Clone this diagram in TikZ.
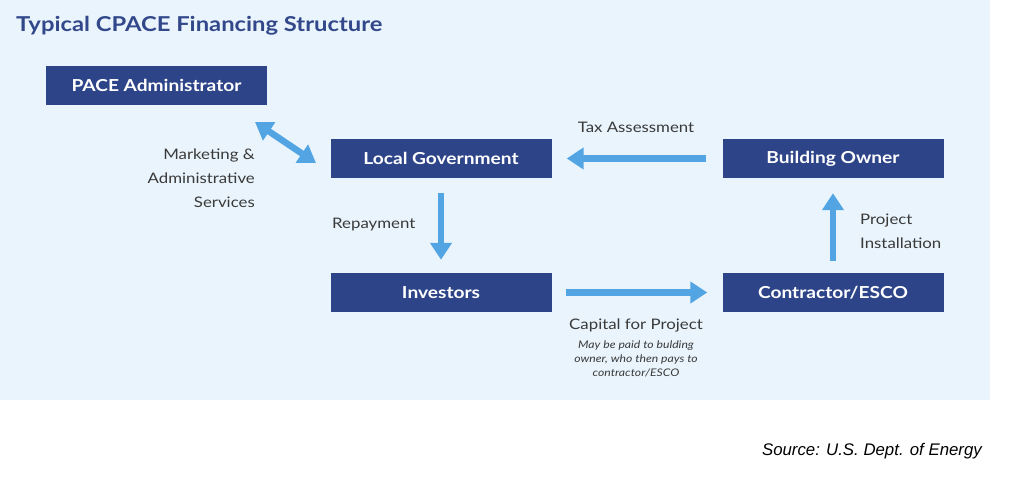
\documentclass[tikz,border=0pt]{standalone}
\usepackage{fontspec}
\setmainfont{Lato}[FakeStretch=1.16]
\newfontfamily\arialfont{Liberation Sans}
\usetikzlibrary{arrows.meta}
\definecolor{bgblue}{HTML}{E9F4FC}
\definecolor{boxblue}{HTML}{2D4489}
\definecolor{titleblue}{HTML}{32488A}
\definecolor{arrowblue}{HTML}{52A5E2}
\definecolor{txtgray}{HTML}{3A3A3A}
\tikzset{
  box/.style={fill=boxblue, text=white, minimum width=221pt, minimum height=39pt, inner sep=0pt,
    font=\fontsize{16.5}{20}\selectfont\bfseries},
  lbl/.style={text=txtgray, font=\fontsize{14.5}{24}\selectfont, inner sep=0pt},
  note/.style={text=txtgray, font=\fontsize{10.5}{14}\selectfont\itshape, inner sep=0pt, align=center},
  flow/.style={draw=arrowblue, line width=6.5pt, -{Triangle[width=21pt,length=17pt]}},
  flow2/.style={draw=arrowblue, line width=6.5pt, {Triangle[width=21pt,length=17pt]}-{Triangle[width=21pt,length=17pt]}}
}
\begin{document}
\begin{tikzpicture}[x=1pt,y=-1pt]
\useasboundingbox (0,0) rectangle (1024,477);
\fill[bgblue] (0,0) rectangle (990,400);
\node[anchor=base west, text=titleblue, font=\fontsize{20.5}{24}\selectfont\bfseries, inner sep=0pt] (title) at (16,31) {Typical CPACE Financing Structure};
\node[box] (pace) at (156.5,85.5) {PACE Administrator};
\node[box] (gov) at (441,158.5) {Local Government};
\node[box] (owner) at (833,158.5) {Building Owner};
\node[box] (inv) at (441,292.5) {Investors};
\node[box] (esco) at (833,292.5) {Contractor/ESCO};
\coordinate (d1) at (255,122);
\coordinate (d2) at (316,163);
\draw[flow2] (d1) -- (d2);
\draw[flow] ([xshift=-16pt]owner.west) -- ([xshift=15pt]gov.east);
\draw[flow] ([yshift=-15pt]gov.south) -- ([yshift=13pt]inv.north);
\draw[flow] ([xshift=14pt]inv.east) -- ([xshift=-15pt]esco.west);
\draw[flow] ([yshift=12pt]esco.north) -- ([yshift=-15pt]owner.south);
\node[lbl, align=right, anchor=east] (mkt) at (255,178) {Marketing \&\\Administrative\\Services};
\node[lbl] (tax) at (636,127) {Tax Assessment};
\node[lbl, anchor=west] (rep) at (332,225) {Repayment};
\node[lbl, anchor=west, align=left] (proj) at (860,231) {Project\\Installation};
\node[lbl] (cap) at (636,325) {Capital for Project};
\node[note] (capnote) at (636,359) {May be paid to bulding\\owner, who then pays to\\contractor/ESCO};
\node[anchor=east, inner sep=0pt, font=\arialfont\fontsize{16.8}{20}\selectfont\itshape, text=black] (src) at (982,451) {Source: U.S. Dept. of Energy};
\end{tikzpicture}
\end{document}
